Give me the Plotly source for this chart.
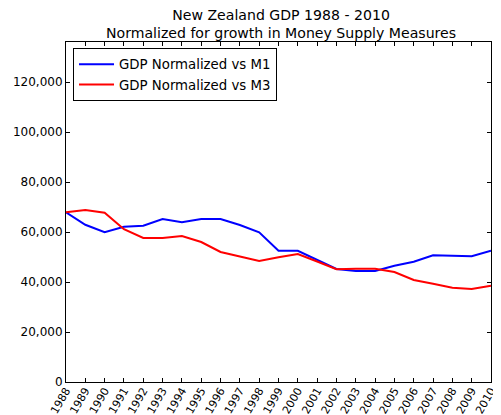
import plotly.graph_objects as go

years = list(range(1988, 2011))
gdp_vs_m1 = [67900, 62900, 59900, 62100, 62500, 65200, 63900, 65200, 65200, 62800,
             59900, 52500, 52500, 48900, 45200, 44400, 44400, 46500, 48100, 50700,
             50600, 50300, 52500]
gdp_vs_m3 = [67900, 68800, 67700, 61100, 57600, 57600, 58400, 56000, 52000, 50300,
             48400, 49900, 51200, 48200, 45100, 45300, 45300, 44000, 40800, 39300,
             37700, 37200, 38500]
y_ticks = [0, 20000, 40000, 60000, 80000, 100000, 120000]

font = "DejaVu Sans"
fig = go.Figure()
fig.add_trace(go.Scatter(x=years, y=gdp_vs_m1, mode="lines", name="GDP Normalized vs M1",
                         legendgroup="a", line=dict(color="#0000ff", width=2)))
fig.add_trace(go.Scatter(x=years, y=gdp_vs_m3, mode="lines", name="GDP Normalized vs M3",
                         legendgroup="b", line=dict(color="#ff0000", width=2)))

fig.add_annotation(text="New Zealand GDP 1988 - 2010<br>Normalized for growth in Money Supply Measures",
                   xref="paper", yref="paper", x=0.505, y=1, xanchor="center", yanchor="bottom",
                   yshift=0, showarrow=False, borderpad=0,
                   font=dict(family=font, size=14.1, color="black"))

# the page body has an 8px default margin, so the figure is sized to the remaining viewport
fig.update_layout(
    width=493, height=407,
    margin=dict(l=58, r=10, t=34, b=33),
    paper_bgcolor="white", plot_bgcolor="white",
    font=dict(family=font, color="black", size=12),
    showlegend=True,
    legend=dict(x=0.0165, y=0.982, xanchor="left", yanchor="top",
                bordercolor="black", borderwidth=1, bgcolor="white",
                font=dict(family=font, size=13.3, color="black"),
                itemwidth=35, tracegroupgap=0),
    xaxis=dict(range=[1988, 2010], tickmode="array", tickvals=years,
               ticktext=[str(y) for y in years], tickangle=-60, automargin=False,
               ticks="inside", ticklen=4, tickcolor="black",
               showline=True, linecolor="black", linewidth=1, mirror="ticks",
               showgrid=False, zeroline=False, tickfont=dict(size=11),
               ticklabelstandoff=-3),
    yaxis=dict(range=[0, 136000], tickmode="array", tickvals=y_ticks,
               ticktext=[f"{v:,}" for v in y_ticks], automargin=False,
               ticks="inside", ticklen=4, tickcolor="black",
               showline=True, linecolor="black", linewidth=1, mirror="ticks",
               showgrid=False, zeroline=False, tickfont=dict(size=12)),
)

fig.write_html("out.html")
